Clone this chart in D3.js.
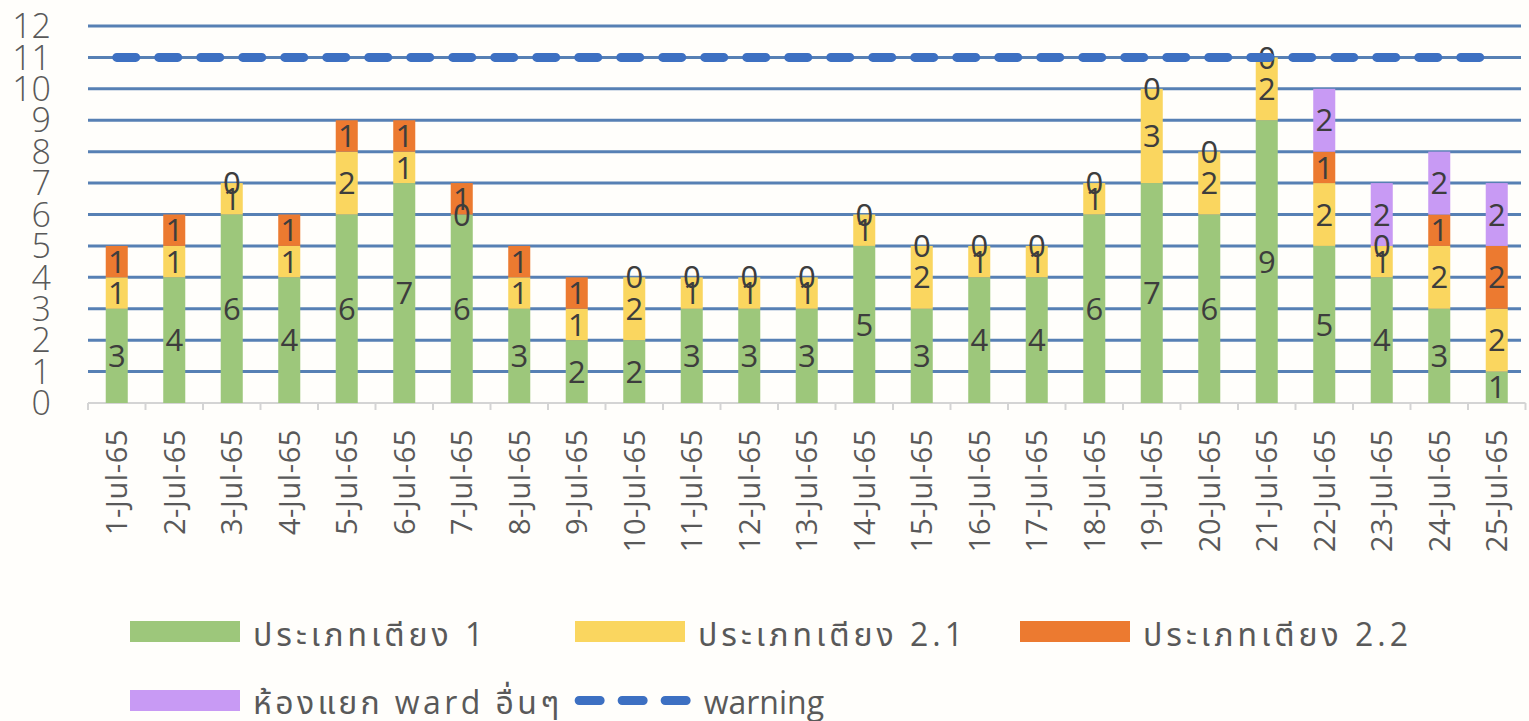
<!DOCTYPE html>
<html>
<head>
<meta charset="utf-8">
<script src="https://cdn.jsdelivr.net/npm/d3@7/dist/d3.min.js"></script>
<style>
  html, body { margin: 0; padding: 0; background: #fffefb; }
  svg { display: block; }
  text { font-family: "Open Sans", "Noto Sans", "Noto Sans Thai", "Leelawadee UI", Tahoma, sans-serif; }
</style>
</head>
<body>
<svg id="chart" width="1529" height="721"></svg>
<script>
// Daily bed usage, July 2565 (B.E.)
const days = ["1-Jul-65","2-Jul-65","3-Jul-65","4-Jul-65","5-Jul-65","6-Jul-65","7-Jul-65",
  "8-Jul-65","9-Jul-65","10-Jul-65","11-Jul-65","12-Jul-65","13-Jul-65","14-Jul-65",
  "15-Jul-65","16-Jul-65","17-Jul-65","18-Jul-65","19-Jul-65","20-Jul-65","21-Jul-65",
  "22-Jul-65","23-Jul-65","24-Jul-65","25-Jul-65"];
const bed1  = [3,4,6,4,6,7,6,3,2,2,3,3,3,5,3,4,4,6,7,6,9,5,4,3,1];
const bed21 = [1,1,1,1,2,1,0,1,1,2,1,1,1,1,2,1,1,1,3,2,2,2,1,2,2];
const bed22 = [1,1,0,1,1,1,1,1,1,0,0,0,0,0,0,0,0,0,0,0,0,1,0,1,2];
const isolation = [null,null,null,null,null,null,null,null,null,null,null,null,null,null,
  null,null,null,null,null,null,null,2,2,2,2];
const warning = [11,11,11,11,11,11,11,11,11,11,11,11,11,11,11,11,11,11,11,11,11,11,11,11,11];
const yTicks = [0,1,2,3,4,5,6,7,8,9,10,11,12];

const seriesNames = ["ประเภทเตียง 1", "ประเภทเตียง 2.1", "ประเภทเตียง 2.2", "ห้องแยก ward อื่นๆ"];
const seriesValues = [bed1, bed21, bed22, isolation];
const seriesColors = ["#9dc77b", "#fad65f", "#ec7a30", "#c89af4"];
const warningName = "warning";

const svg = d3.select("#chart");
const x = d3.scaleBand().domain(days).range([88, 1525.5]).padding(0);
const y = d3.scaleLinear().domain([0, 12]).range([403, 26]);
const barW = x.bandwidth() * 0.383;

// horizontal gridlines
svg.append("g").selectAll("line").data(yTicks.filter(d => d > 0)).join("line")
  .attr("x1", 88).attr("x2", 1521)
  .attr("y1", d => y(d)).attr("y2", d => y(d))
  .attr("stroke", "#5780b4").attr("stroke-width", 3);

// category axis along the bottom
const xAxis = svg.append("g").attr("transform", `translate(0,${y(0)})`);
xAxis.append("line").attr("x1", 88).attr("x2", 1525.5).attr("stroke", "#d4d4d4").attr("stroke-width", 2);
xAxis.selectAll(".tk").data(days.concat(["end"])).join("line")
  .attr("class", "tk")
  .attr("x1", (d, i) => 88 + i * x.step()).attr("x2", (d, i) => 88 + i * x.step())
  .attr("y1", 0).attr("y2", 7).attr("stroke", "#d4d4d4").attr("stroke-width", 2);
xAxis.selectAll(".lbl").data(days).join("text")
  .attr("class", "lbl")
  .attr("transform", d => `translate(${x(d) + x.bandwidth() / 2},26) rotate(-90)`)
  .attr("text-anchor", "end").attr("dy", "0.36em")
  .attr("font-size", 29).attr("letter-spacing", 0.6).attr("fill", "#595959")
  .text(d => d);

// value axis labels
svg.append("g").selectAll("text").data(yTicks).join("text")
  .attr("x", 51).attr("y", d => y(d)).attr("dy", "0.36em")
  .attr("text-anchor", "end").attr("font-size", 34).attr("font-weight", 300)
  .attr("fill", "#595959").text(d => d);

// stacked bars
const rows = days.map((d, i) => {
  const r = { day: d };
  seriesValues.forEach((s, k) => { r["s" + k] = s[i] == null ? 0 : s[i]; });
  return r;
});
const stack = d3.stack().keys(seriesValues.map((s, k) => "s" + k))(rows);

const barsG = svg.append("g");
stack.forEach((layer, k) => {
  barsG.append("g").attr("fill", seriesColors[k]).selectAll("rect").data(layer).join("rect")
    .attr("x", d => x(d.data.day) + x.bandwidth() / 2 - barW / 2)
    .attr("width", barW)
    .attr("y", d => y(d[1]))
    .attr("height", d => y(d[0]) - y(d[1]));
});

// data labels (blank entries get no label)
const labelsG = svg.append("g");
stack.forEach((layer, k) => {
  labelsG.append("g").selectAll("text")
    .data(layer.filter((d, i) => seriesValues[k][i] != null))
    .join("text")
    .attr("x", d => x(d.data.day) + x.bandwidth() / 2)
    .attr("y", d => y((d[0] + d[1]) / 2)).attr("dy", "0.36em")
    .attr("text-anchor", "middle").attr("font-size", 31)
    .attr("fill", "#3d3d3d")
    .text(d => d[1] - d[0]);
});

// warning threshold line
const warnLine = d3.line().x((d, i) => x(days[i]) + x.bandwidth() / 2).y(d => y(d));
svg.append("path").datum(warning)
  .attr("d", warnLine).attr("fill", "none")
  .attr("stroke", "#3d70c2").attr("stroke-width", 9)
  .attr("stroke-linecap", "round").attr("stroke-dasharray", "19,23");

// legend
const legend = svg.append("g").attr("font-size", 32).attr("fill", "#595959");
const row1Top = 621, row2Top = 690;
[0, 1, 2].forEach(k => {
  const gx = 130 + k * 445;
  legend.append("rect").attr("x", gx).attr("y", row1Top).attr("width", 110).attr("height", 21)
    .attr("fill", seriesColors[k]);
  legend.append("text").attr("x", gx + 123).attr("y", row1Top + 25)
    .attr("letter-spacing", 4).text(seriesNames[k]);
});
legend.append("rect").attr("x", 130).attr("y", row2Top).attr("width", 110).attr("height", 21)
  .attr("fill", seriesColors[3]);
const isoText = legend.append("text").attr("x", 253).attr("y", row2Top + 24)
  .attr("letter-spacing", 3.4).text(seriesNames[3]);
const wx = 253 + isoText.node().getComputedTextLength() + 12;
legend.append("line").attr("x1", wx + 4.5).attr("x2", wx + 111.5)
  .attr("y1", row2Top + 10.5).attr("y2", row2Top + 10.5)
  .attr("stroke", "#3d70c2").attr("stroke-width", 9)
  .attr("stroke-linecap", "round").attr("stroke-dasharray", "21,22");
legend.append("text").attr("x", wx + 129).attr("y", row2Top + 24).text(warningName);
</script>
</body>
</html>
